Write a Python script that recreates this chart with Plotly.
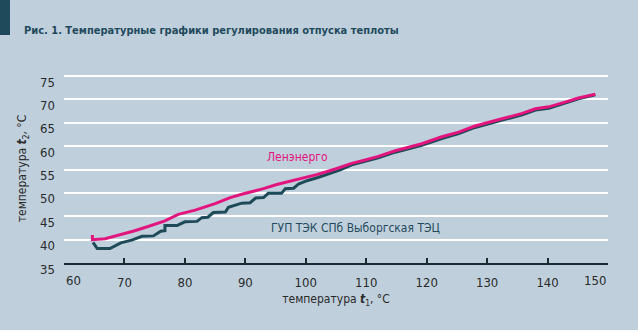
import plotly.graph_objects as go

# ---- data ----
lenenergo_t1 = [64.7, 64.7, 66.8, 69.0, 71.7, 73.4, 75.0, 76.7, 78.9, 81.7, 85.0, 87.5, 89.7,
                93.0, 95.2, 98.5, 101.8, 104.9, 107.6, 110.0, 112.0, 114.8, 117.0, 119.2,
                122.5, 125.3, 128.0, 131.9, 135.8, 138.0, 140.2, 142.9, 145.1, 147.9]
lenenergo_t2 = [41.0, 40.0, 40.2, 40.9, 41.9, 42.6, 43.2, 44.0, 45.4, 46.3, 47.7, 49.0, 49.8,
                50.9, 51.8, 52.9, 53.9, 55.1, 56.3, 57.1, 57.8, 59.0, 59.7, 60.5,
                62.0, 63.0, 64.3, 65.6, 67.0, 68.0, 68.4, 69.4, 70.3, 71.1]

vyborg_t1 = [64.8, 65.5, 67.6, 69.4, 71.2, 72.9, 74.8, 76.0, 76.7, 76.7, 78.7, 80.0, 82.0,
             82.8, 83.8, 84.7, 86.7, 87.2, 89.4, 90.8, 91.7, 93.0, 93.8, 96.0, 96.6, 98.0,
             98.8, 100.2, 102.0, 104.0, 105.7, 107.6, 110.0, 112.0, 114.8, 117.0, 119.2,
             122.5, 125.3, 128.0, 131.9, 135.8, 138.0, 140.2, 142.9, 145.1, 147.9]
vyborg_t2 = [39.4, 38.1, 38.1, 39.3, 39.9, 40.7, 40.8, 41.8, 41.9, 43.0, 43.0, 43.8, 43.9,
             44.7, 44.8, 45.8, 45.9, 46.9, 47.8, 47.9, 48.9, 49.0, 49.9, 49.9, 50.9, 51.0,
             51.9, 52.6, 53.3, 54.1, 54.9, 56.0, 56.8, 57.5, 58.7, 59.4, 60.2,
             61.6, 62.7, 64.0, 65.3, 66.7, 67.7, 68.1, 69.2, 70.1, 71.0]

x_ticks = [60, 70, 80, 90, 100, 110, 120, 130, 140, 150]
y_ticks = [35, 40, 45, 50, 55, 60, 65, 70, 75]

title_text = "Рис. 1. Температурные графики регулирования отпуска теплоты"
label_lenenergo = "Ленэнерго"
label_vyborg = "ГУП ТЭК СПб Выборгская ТЭЦ"

BG = "#bfd0dc"
DARK = "#1f4a5c"
MAGENTA = "#e2157f"
TEAL = "#1e4a58"
TXT = "#2a2a2a"
AXC = "#1b2a31"
NARROW = "Liberation Sans Narrow, DejaVu Sans Condensed, Arial Narrow, sans-serif"

W, H = 638, 333
ML, MR, MT, MB = 64, 30, 74, 70
PW, PH = W - ML - MR, H - MT - MB

fig = go.Figure()
fig.add_trace(go.Scatter(x=vyborg_t1, y=vyborg_t2, mode="lines",
                         line=dict(color=TEAL, width=3), hoverinfo="skip"))
fig.add_trace(go.Scatter(x=lenenergo_t1, y=lenenergo_t2, mode="lines",
                         line=dict(color=MAGENTA, width=3), hoverinfo="skip"))

inner_x_ticks = x_ticks[1:-1]

fig.update_layout(
    width=W, height=H,
    margin=dict(l=ML, r=MR, t=MT, b=MB, pad=0),
    paper_bgcolor=BG, plot_bgcolor=BG,
    showlegend=False,
    font=dict(family=NARROW, size=13, color=TXT),
    xaxis=dict(range=[x_ticks[0], x_ticks[-1]], tickvals=inner_x_ticks,
               showgrid=False, zeroline=False,
               showline=True, linecolor=AXC, linewidth=2,
               ticks="inside", ticklen=5, tickwidth=1.5, tickcolor=AXC,
               minor=dict(tick0=x_ticks[0], dtick=10, ticks="inside", ticklen=5,
                          tickwidth=1.5, tickcolor=AXC, showgrid=False),
               tickfont=dict(size=13, color=TXT),
               ticklabelstandoff=6,
               title=dict(text="температура <b><i>t</i></b><sub>1</sub>, °C",
                          font=dict(size=12, color=TXT), standoff=6)),
    yaxis=dict(range=[35, 75 + 2 / 4.667], tickvals=y_ticks,
               showgrid=True, gridcolor="#ffffff", gridwidth=1.5,
               zeroline=False, showline=False, ticks="",
               tickfont=dict(size=13, color=TXT),
               ticklabelshift=6, ticklabelstandoff=8,
               title=dict(text="температура <b><i>t</i></b><sub>2</sub>, °C",
                          font=dict(size=12, color=TXT), standoff=10)),
)

# end tick labels aligned inward as in the reference
fig.add_annotation(x=x_ticks[0], y=0, xref="x", yref="paper", text=str(x_ticks[0]),
                   showarrow=False, xanchor="left", yanchor="top", yshift=-8,
                   font=dict(size=13, color=TXT, family=NARROW))
fig.add_annotation(x=x_ticks[-1], y=0, xref="x", yref="paper", text=str(x_ticks[-1]),
                   showarrow=False, xanchor="right", yanchor="top", yshift=-8,
                   font=dict(size=13, color=TXT, family=NARROW))

# series labels
fig.add_annotation(x=98.6, y=57.6, text=label_lenenergo, showarrow=False,
                   font=dict(size=12, color=MAGENTA, family=NARROW))
fig.add_annotation(x=108.2, y=42.4, text=label_vyborg, showarrow=False,
                   font=dict(size=12, color=DARK, family=NARROW))


def px_to_paper_x(px):
    return (px - ML) / PW


def py_to_paper_y(py):
    return (H - MB - py) / PH


# title
fig.add_annotation(x=px_to_paper_x(22), y=py_to_paper_y(30), xref="paper", yref="paper",
                   text="<b>" + title_text + "</b>",
                   showarrow=False, xanchor="left", yanchor="middle",
                   font=dict(size=11, color=DARK, family=NARROW))

# decorative dark bar (top-left) and white strip at the bottom
fig.add_shape(type="rect", xref="paper", yref="paper",
              x0=px_to_paper_x(0), x1=px_to_paper_x(10),
              y0=py_to_paper_y(35), y1=py_to_paper_y(0),
              fillcolor=DARK, line_width=0, layer="above")
fig.add_shape(type="rect", xref="paper", yref="paper",
              x0=px_to_paper_x(0), x1=px_to_paper_x(W),
              y0=py_to_paper_y(H), y1=py_to_paper_y(330),
              fillcolor="#ffffff", line_width=0, layer="above")

fig.write_html("out.html")
